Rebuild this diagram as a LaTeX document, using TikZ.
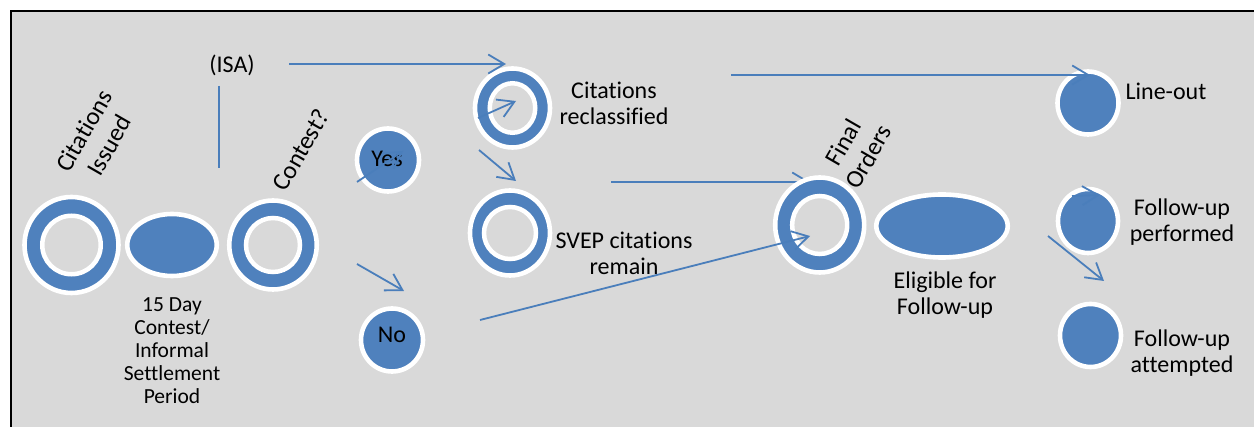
\documentclass[tikz,border=0pt]{standalone}
\usepackage{fontspec}
\setmainfont{Carlito}[Ligatures=NoCommon]
\usetikzlibrary{shapes.geometric,arrows.meta}
\definecolor{bg}{HTML}{D9D9D9}
\definecolor{blu}{HTML}{4F81BD}
\definecolor{lnc}{HTML}{4A7EBB}
\tikzset{
  outerring/.style 2 args={ellipse, draw=white, line width=4.6pt, fill=blu, inner sep=0pt, minimum width=#1, minimum height=#2},
  innerring/.style 2 args={ellipse, draw=white, line width=4.5pt, fill=bg, inner sep=0pt, minimum width=#1, minimum height=#2},
  dot/.style 2 args={ellipse, draw=white, line width=4.6pt, fill=blu, inner sep=0pt, minimum width=#1, minimum height=#2},
  lbl/.style={font=\fontsize{24}{26}\selectfont, align=center, inner sep=0pt, text=black},
  smalllbl/.style={font=\fontsize{21.5}{23}\selectfont, align=center, inner sep=0pt, text=black},
  rotlbl/.style={font=\fontsize{25}{29}\selectfont, align=center, inner sep=0pt, text=black, rotate=60},
  arr/.style={draw=lnc, line width=1.8pt, -{Straight Barb[length=16pt,width=19pt]}},
  plainline/.style={draw=lnc, line width=1.8pt},
}
\begin{document}
\begin{tikzpicture}[x=1pt,y=-1pt]
\useasboundingbox (0,0) rectangle (1254,427);
\fill[white] (0,0) rectangle (1254,427);
\fill[bg] (11,11) rectangle (1254,427);
\draw[line width=2.5pt, black] (11,427) -- (11,11) -- (1254,11);

% coordinates for free arrow ends
\coordinate (isaS) at (289,64);   \coordinate (isaE) at (506,64);
\coordinate (vlS) at (219,86);    \coordinate (vlE) at (219,168);
\coordinate (yesS) at (357,182);  \coordinate (yesE) at (403,151);
\coordinate (noS) at (357,264);   \coordinate (noE) at (404,291);
\coordinate (rcS) at (478,118);   \coordinate (rcE) at (516,101);
\coordinate (rsS) at (479,150);   \coordinate (rsE) at (516,181);
\coordinate (sfS) at (611,182);   \coordinate (sfE) at (810,182);
\coordinate (nfS) at (480,320);   \coordinate (nfE) at (810,236);
\coordinate (loS) at (731,75);    \coordinate (loE) at (1090,75);
\coordinate (fpS) at (1072,196);  \coordinate (fpE) at (1100,195);
\coordinate (faS) at (1048,236);  \coordinate (faE) at (1104,281);

% arrow that passes under the Final Orders ring
\draw[arr] (sfS) -- (sfE);

% shapes
\node[outerring={94pt}{96pt}] (ci) at (71.5,245) {};
\node[innerring={58.5pt}{58.5pt}] (ciin) at (71.5,245) {};
\node[dot={89.5pt}{62pt}] (period) at (172,245) {};
\node[outerring={87.5pt}{89pt}] (ct) at (273,245) {};
\node[innerring={54pt}{54pt}] (ctin) at (273,245) {};
\node[dot={62pt}{63pt}] (yes) at (388,160) {};
\node[dot={62pt}{63pt}] (no) at (392,340) {};
\node[outerring={75pt}{79pt}] (rc) at (512.5,108) {};
\node[innerring={45.5pt}{49.5pt}] (rcin) at (512.5,108) {};
\node[outerring={80pt}{85pt}] (sv) at (510,233) {};
\node[innerring={52pt}{52pt}] (svin) at (510,233) {};
\node[outerring={89pt}{95pt}] (fo) at (819.7,225) {};
\node[innerring={55pt}{58pt}] (foin) at (819.7,225) {};
\node[dot={131.5pt}{63pt}] (el) at (942,226) {};
\node[dot={61pt}{63pt}] (lo) at (1088,103) {};
\node[dot={60pt}{64pt}] (fp) at (1088,221) {};
\node[dot={61pt}{63pt}] (fa) at (1090.5,335.5) {};

% texts
\node[rotlbl] (cilbl) at (96.5,138) {Citations\\Issued};
\node[rotlbl] (ctlbl) at (301,150) {Contest?};
\node[rotlbl] (folbl) at (855.7,149.5) {Final\\Orders};
\node[lbl] (isa) at (232,65) {(ISA)};
\node[smalllbl] (periodlbl) at (172,351) {15 Day\\Contest/\\Informal\\Settlement\\Period};
\node[lbl] (yeslbl) at (387,159) {Yes};
\node[lbl] (nolbl) at (392,335) {No};
\node[lbl] (rclbl) at (614,103) {Citations\\reclassified};
\node[lbl] (svlbl) at (624,253) {SVEP citations\\remain};
\node[lbl] (ellbl) at (945,295.5) {Eligible for\\Follow-up};
\node[lbl] (lolbl) at (1166,91.6) {Line-out};
\node[lbl] (fplbl) at (1182,222) {Follow-up\\performed};
\node[lbl] (falbl) at (1182,352.7) {Follow-up\\attempted};

% connectors
\draw[plainline] (vlS) -- (vlE);
\draw[arr] (isaS) -- (isaE);
\draw[arr] (yesS) -- (yesE);
\draw[arr] (noS) -- (noE);
\draw[arr] (rcS) -- (rcE);
\draw[arr] (rsS) -- (rsE);
\draw[arr] (nfS) -- (nfE);
\draw[arr] (loS) -- (loE);
\draw[arr] (fpS) -- (fpE);
\draw[arr] (faS) -- (faE);
\end{tikzpicture}
\end{document}
